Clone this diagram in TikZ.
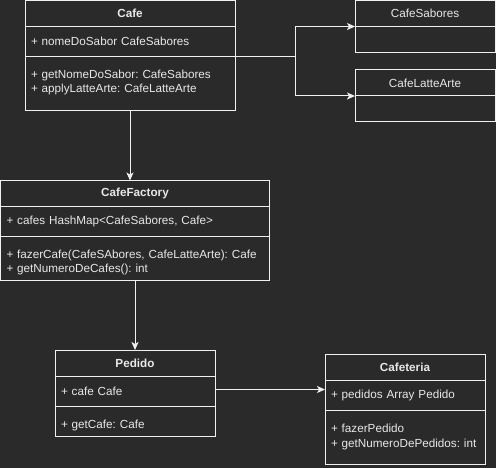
\documentclass[tikz,border=0pt]{standalone}
\usepackage{fontspec}
\setmainfont{Liberation Sans}
\usepackage{tikz}
\usetikzlibrary{%
  arrows.meta,%
  positioning
}
\definecolor{bgcol}{HTML}{2A2A2A}
\definecolor{linecol}{HTML}{F0F0F0}
\definecolor{textcol}{HTML}{E8E8E8}
\newcommand\umlfont{\fontsize{11.7}{14.4}\selectfont\frenchspacing}
\tikzset{
  uml/.style={draw=linecol,line width=1pt,text=textcol,outer sep=0pt,
    inner sep=0pt,font=\umlfont},
  umltitle/.style={uml,anchor=north west,font=\umlfont\bfseries},
  umlname/.style={uml,anchor=north west},
  umlpart/.style={uml,align=left,inner xsep=6pt},
  umlmeth/.style={umlpart,inner ysep=0pt,minimum height=0pt,text height=22},
  link/.style={draw=linecol,line width=1pt,
    -{Stealth[length=8pt,width=7pt,inset=2pt]}}
}

\begin{document}
\begin{tikzpicture}[x=1pt,y=-1pt]
      \fill [bgcol] (0,0) rectangle (496,468);
      \useasboundingbox (0,0) rectangle (496,468);
      % Cafe
      \node [umltitle,minimum width=210,minimum height=26] (cafe) at (25,0.5) {Cafe};
      \node [umlpart,text width=198,minimum height=30,below=0pt of cafe] (cafe-attr)
        {+ nomeDoSabor CafeSabores};
      \node [umlmeth,text width=198,text depth=32,below=0pt of cafe-attr] (cafe-meth)
        {+ getNomeDoSabor: CafeSabores\\+ applyLatteArte: CafeLatteArte};
      % enums
      \node [umlname,minimum width=140,minimum height=26] (sabores) at (355,0.5) {CafeSabores};
      \node [uml,minimum width=140,minimum height=26,below=0pt of sabores] (sabores-body) {};
      \node [umlname,minimum width=140,minimum height=26] (latte) at (355,70) {CafeLatteArte};
      \node [uml,minimum width=140,minimum height=26,below=0pt of latte] (latte-body) {};
      % CafeFactory
      \node [umltitle,minimum width=269,minimum height=26] (factory) at (0.5,180.5) {CafeFactory};
      \node [umlpart,text width=257,minimum height=30,below=0pt of factory] (factory-attr)
        {+ cafes HashMap<CafeSabores, Cafe>};
      \node [umlmeth,text width=257,text depth=22,below=0pt of factory-attr] (factory-meth)
        {+ fazerCafe(CafeSAbores, CafeLatteArte): Cafe\\+ getNumeroDeCafes(): int};
      % Pedido
      \node [umltitle,minimum width=160,minimum height=26] (pedido) at (55,350) {Pedido};
      \node [umlpart,text width=148,minimum height=30,below=0pt of pedido] (pedido-attr)
        {+ cafe Cafe};
      \node [umlmeth,text width=148,text depth=8,below=0pt of pedido-attr] (pedido-meth)
        {+ getCafe: Cafe};
      % Cafeteria
      \node [umltitle,minimum width=160,minimum height=26] (cafeteria) at (325,354) {Cafeteria};
      \node [umlpart,text width=148,minimum height=30,below=0pt of cafeteria] (cafeteria-attr)
        {+ pedidos Array Pedido};
      \node [umlmeth,text width=148,text height=22.8,text depth=31.2,below=0pt of cafeteria-attr] (cafeteria-meth)
        {+ fazerPedido\\+ getNumeroDePedidos: int};
      % connectors
      \coordinate (split) at (295,56.5);
      \draw [draw=linecol,line width=1pt] (cafe-attr.south east) -- (split);
      \draw [link] (split) |- (sabores.south west);
      \draw [link] (split) |- (latte.south west);
      \draw [link] (cafe-meth.south) -- (cafe-meth.south |- factory.north);
      \draw [link] (factory-meth.south -| pedido.north) -- (pedido.north);
      \draw [link] ([yshift=1.5]pedido-attr.east) -- ([yshift=1.5]pedido-attr.east -| cafeteria-attr.west);
    \end{tikzpicture}
\end{document}
